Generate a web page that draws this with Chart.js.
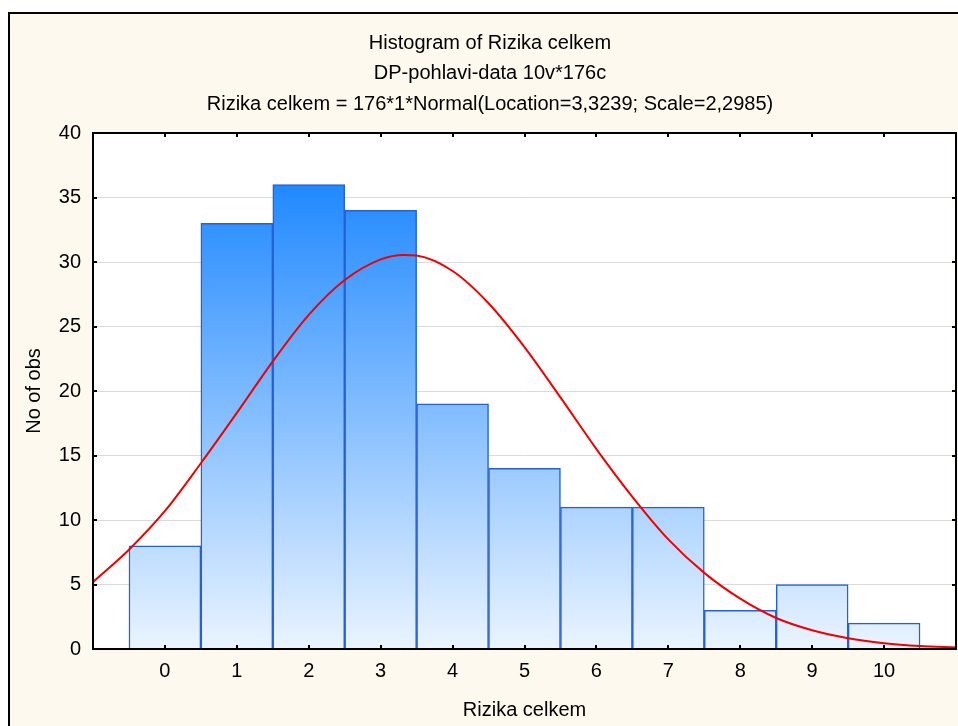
<!DOCTYPE html>
<html>
<head>
<meta charset="utf-8">
<script src="https://cdn.jsdelivr.net/npm/chart.js@4"></script>
<style>
  html, body { margin: 0; padding: 0; background: #fff; }
  #wrap { width: 958px; height: 726px; }
</style>
</head>
<body>
<div id="wrap"><canvas id="hist"></canvas></div>
<script>
// histogram bins (class centres) and counts
const bins = [0, 1, 2, 3, 4, 5, 6, 7, 8, 9, 10];
const counts = [8, 33, 36, 34, 19, 14, 11, 11, 3, 5, 2];

const curveX = [-1, -0.5, 0, 0.5, 1, 1.5, 2, 2.5, 3, 3.32, 3.5, 4, 4.5, 5, 5.5, 6, 6.5, 7, 7.5, 8, 8.5, 9, 9.5, 10, 10.5, 11];
const curveY = [5.2, 7.7, 10.7, 14.4, 18.3, 22.3, 25.9, 28.6, 30.2, 30.55, 30.5, 29.3, 26.8, 23.4, 19.5, 15.5, 11.8, 8.5, 5.9, 3.9, 2.4, 1.45, 0.83, 0.45, 0.23, 0.12];

const yTicks = [0, 5, 10, 15, 20, 25, 30, 35, 40];

const FONT = "'Liberation Sans', Arial, sans-serif";

const barData = bins.map((b, i) => ({ x: b, y: counts[i] }));
const lineData = curveX.map((x, i) => ({ x: x, y: curveY[i] }));

function barGradient(context) {
  const chart = context.chart;
  const area = chart.chartArea;
  if (!area) return 'rgb(120,180,250)';
  const g = chart.ctx.createLinearGradient(0, area.top, 0, area.bottom);
  g.addColorStop(0, 'rgb(10,125,255)');
  g.addColorStop(1, 'rgb(234,244,255)');
  return g;
}

// cream page with a black frame at top/left, plus the boxed plot with inward ticks
const framePlugin = {
  id: 'frame',
  beforeDraw(chart) {
    const c = chart.ctx;
    c.save();
    c.fillStyle = '#fff';
    c.fillRect(0, 0, chart.width, chart.height);
    c.fillStyle = '#fdf9ef';
    c.fillRect(9, 13, chart.width - 9, chart.height - 13);
    const a = chart.chartArea;
    c.fillStyle = '#fff';
    c.fillRect(a.left, a.top, a.right - a.left, a.bottom - a.top);
    c.fillStyle = '#000';
    c.fillRect(8, 12, chart.width - 8, 2);
    c.fillRect(8, 12, 2, chart.height - 12);
    c.restore();
  },
  afterDatasetsDraw(chart) {
    const c = chart.ctx;
    const a = chart.chartArea;
    const xs = chart.scales.x, ys = chart.scales.y;
    c.save();
    c.strokeStyle = '#000';
    c.lineWidth = 2;
    c.strokeRect(a.left, a.top, a.right - a.left, a.bottom - a.top);
    c.beginPath();
    bins.forEach(b => {
      const px = Math.round(xs.getPixelForValue(b));
      c.moveTo(px, a.bottom); c.lineTo(px, a.bottom - 4);
      c.moveTo(px, a.top); c.lineTo(px, a.top + 4);
    });
    yTicks.slice(1, -1).forEach(v => {
      const py = Math.round(ys.getPixelForValue(v));
      c.moveTo(a.left, py); c.lineTo(a.left + 4, py);
      c.moveTo(a.right, py); c.lineTo(a.right - 4, py);
    });
    c.stroke();
    c.restore();
  }
};

new Chart(document.getElementById('hist'), {
  type: 'bar',
  data: {
    datasets: [{
      label: 'No of obs',
      data: barData,
      order: 2,
      backgroundColor: barGradient,
      borderColor: 'rgb(38,96,212)',
      borderWidth: 1.5,
      barPercentage: 1,
      categoryPercentage: 1
    }, {
      type: 'line',
      label: 'Normal',
      data: lineData,
      order: 1,
      borderColor: 'rgb(240,0,0)',
      borderWidth: 2,
      pointRadius: 0,
      fill: false,
      cubicInterpolationMode: 'monotone'
    }]
  },
  options: {
    responsive: true,
    maintainAspectRatio: false,
    animation: false,
    layout: { padding: { left: 24, right: 2, top: 0, bottom: 0 } },
    plugins: {
      legend: { display: false },
      tooltip: { enabled: false },
      title: {
        display: true,
        text: [
          'Histogram of Rizika celkem',
          'DP-pohlavi-data 10v*176c',
          'Rizika celkem = 176*1*Normal(Location=3,3239; Scale=2,2985)'
        ],
        color: '#000',
        font: { family: FONT, size: 20, weight: 'normal', lineHeight: 1.52 },
        padding: { top: 28.3, bottom: 13.5 }
      }
    },
    scales: {
      x: {
        type: 'linear',
        min: -1,
        max: 11,
        offset: false,
        afterFit(scale) {
          scale.height = 77;
          scale.paddingLeft = 0;
          scale.paddingRight = 0;
        },
        grid: { display: false, drawTicks: false },
        border: { display: false },
        ticks: {
          stepSize: 1,
          padding: 10,
          color: '#000',
          font: { family: FONT, size: 20 },
          callback: v => (v < 0 || v > 10) ? '' : v
        },
        title: {
          display: true,
          text: 'Rizika celkem',
          color: '#000',
          font: { family: FONT, size: 20 },
          padding: { top: 0, bottom: 4 }
        }
      },
      y: {
        min: 0,
        max: 40,
        afterFit(scale) { scale.width = 69; },
        grid: { color: '#dadada', lineWidth: 1, drawTicks: false },
        border: { display: false },
        ticks: {
          stepSize: 5,
          padding: 12,
          color: '#000',
          font: { family: FONT, size: 20 }
        },
        title: {
          display: true,
          text: 'No of obs',
          color: '#000',
          font: { family: FONT, size: 20, lineHeight: 1 },
          padding: 0
        }
      }
    }
  },
  plugins: [framePlugin]
});
</script>
</body>
</html>
